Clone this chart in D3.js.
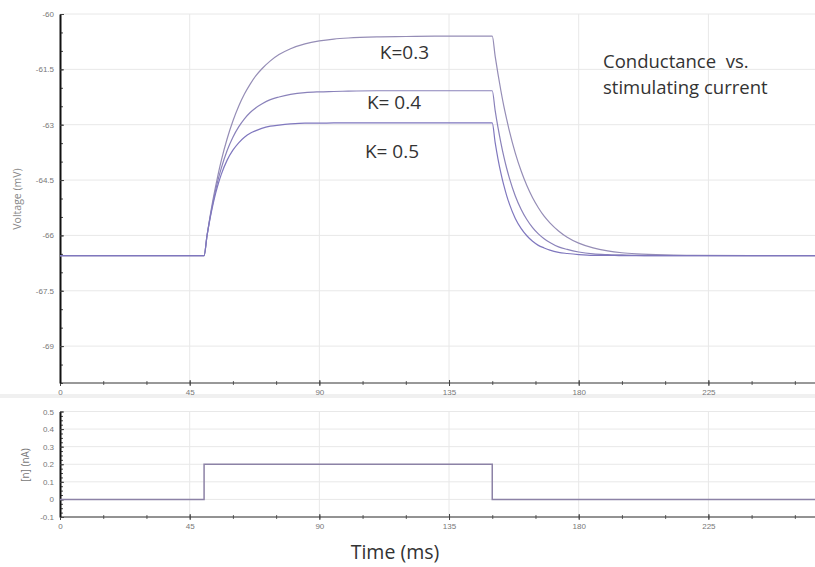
<!DOCTYPE html>
<html>
<head>
<meta charset="utf-8">
<script src="https://cdn.jsdelivr.net/npm/d3@7"></script>
<style>
  html, body { margin: 0; padding: 0; background: #fff; }
  svg { display: block; font-family: "Open Sans", "Noto Sans", sans-serif; }
  .tick text { fill: #777; font-size: 8px; }
  .grid line { stroke: #e8e8e8; }
  .note { white-space: pre; fill: #333; }
</style>
</head>
<body>
<div id="chart"></div>
<script>
// time points (ms)
const times = [0, 50, 51, 52, 53, 54, 55, 56, 58, 60, 62, 64, 66, 68, 70, 73, 76, 80, 85, 90, 95, 100,
    110, 120, 130, 140, 150, 151, 152, 153, 154, 155, 156, 158, 160, 162, 164, 166, 168, 170, 173, 176,
    180, 185, 190, 195, 200, 210, 220, 240, 262];

// membrane voltage (mV) for each K
const vK03 = [-66.55, -66.55, -66.01, -65.52, -65.07, -64.67, -64.30, -63.96, -63.38, -62.90, -62.50,
    -62.17, -61.90, -61.67, -61.49, -61.27, -61.10, -60.94, -60.81, -60.73, -60.68, -60.65,
    -60.62, -60.61, -60.60, -60.60, -60.60, -61.14, -61.63, -62.08, -62.49, -62.85, -63.19, -63.77,
    -64.25, -64.65, -64.98, -65.25, -65.48, -65.66, -65.88, -66.05, -66.21, -66.34, -66.42, -66.47,
    -66.50, -66.53, -66.54, -66.55, -66.55];
const vK04 = [-66.55, -66.55, -66.02, -65.55, -65.14, -64.77, -64.45, -64.17, -63.70, -63.34, -63.06,
    -62.84, -62.67, -62.54, -62.44, -62.32, -62.25, -62.18, -62.13, -62.11, -62.10, -62.09,
    -62.08, -62.08, -62.08, -62.08, -62.08, -62.61, -63.08, -63.49, -63.86, -64.18, -64.46, -64.93,
    -65.29, -65.57, -65.79, -65.96, -66.09, -66.19, -66.31, -66.38, -66.45, -66.50, -66.52, -66.53,
    -66.54, -66.55, -66.55, -66.55, -66.55];
const vK05 = [-66.55, -66.55, -66.02, -65.57, -65.19, -64.86, -64.58, -64.34, -63.96, -63.69, -63.49,
    -63.34, -63.23, -63.16, -63.10, -63.04, -63.01, -62.98, -62.96, -62.96, -62.95, -62.95,
    -62.95, -62.95, -62.95, -62.95, -62.95, -63.48, -63.93, -64.31, -64.64, -64.92, -65.16, -65.54,
    -65.81, -66.01, -66.16, -66.27, -66.34, -66.40, -66.46, -66.49, -66.52, -66.54, -66.54, -66.55,
    -66.55, -66.55, -66.55, -66.55, -66.55];

// stimulating current (nA)
const stimTimes = [0, 50, 50, 150, 150, 262];
const stimValues = [0, 0, 0.2, 0.2, 0, 0];

const xTicks = [0, 45, 90, 135, 180, 225];
const vTicks = [-60, -61.5, -63, -64.5, -66, -67.5, -69];
const iTicks = [0.5, 0.4, 0.3, 0.2, 0.1, 0, -0.1];

const labels = [
    { text: 'K=0.3', t: 111, v: -61.22 },
    { text: 'K= 0.4', t: 106.5, v: -62.57 },
    { text: 'K= 0.5', t: 105.8, v: -63.9 }
];

const W = 815, H = 567;
const svg = d3.select('#chart').append('svg').attr('width', W).attr('height', H);

const x = d3.scaleLinear().domain([0, 262]).range([60, 815]);
const yV = d3.scaleLinear().domain([-70, -60]).range([383, 14]);
const yI = d3.scaleLinear().domain([-0.1, 0.5]).range([517, 411.5]);

// separator band between the two panels
svg.append('rect').attr('x', 0).attr('y', 394).attr('width', W).attr('height', 4).attr('fill', '#f0f0f0');

function grid(yScale, yVals, top, bottom) {
    const g = svg.append('g').attr('class', 'grid');
    g.selectAll('.h').data(yVals).join('line')
        .attr('x1', x(0)).attr('x2', W)
        .attr('y1', (d) => yScale(d)).attr('y2', (d) => yScale(d));
    g.selectAll('.v').data(xTicks.slice(1)).join('line')
        .attr('x1', (d) => x(d)).attr('x2', (d) => x(d))
        .attr('y1', top).attr('y2', bottom);
}

grid(yV, vTicks, 14, 383);
grid(yI, iTicks, 411, 517);

function xAxis(yPos) {
    const minor = d3.range(0, 262, 15);
    svg.append('g')
        .attr('transform', `translate(0,${yPos})`)
        .call(d3.axisBottom(x).tickValues(minor).tickSize(2).tickFormat(''))
        .call((g) => g.select('.domain').remove())
        .selectAll('line').attr('y1', -2).attr('stroke', '#666');
    const ax = svg.append('g')
        .attr('transform', `translate(0,${yPos})`)
        .call(d3.axisBottom(x).tickValues(xTicks).tickSize(3).tickPadding(3).tickSizeOuter(0));
    ax.select('.domain').attr('stroke', '#333').attr('d', `M${x(0)},0H${W}`);
    ax.selectAll('.tick line').attr('y1', -3).attr('stroke', '#444');
}

function yAxis(yScale, ticks, minorStep, lo, hi) {
    const minor = d3.range(lo, hi + 1e-9, minorStep);
    svg.append('g')
        .attr('transform', `translate(${x(0)},0)`)
        .call(d3.axisLeft(yScale).tickValues(minor).tickSize(-3).tickFormat(''))
        .call((g) => g.select('.domain').remove())
        .selectAll('line').attr('stroke', '#444');
    const ax = svg.append('g')
        .attr('transform', `translate(${x(0)},0)`)
        .call(d3.axisLeft(yScale).tickValues(ticks).tickSize(-4).tickPadding(6).tickSizeOuter(0)
            .tickFormat((d) => (d === 0 ? '0' : String(d))));
    ax.select('.domain').attr('stroke', '#111').attr('stroke-width', 2);
    ax.selectAll('.tick line').attr('stroke', '#444');
}

xAxis(383);
yAxis(yV, vTicks, 0.5, -70, -60);
xAxis(517);
yAxis(yI, iTicks, 0.025, -0.1, 0.5);

// voltage traces
const line = d3.line()
    .x((d) => x(d[0]))
    .y((d) => yV(d[1]))
    .curve(d3.curveMonotoneX);

const series = [
    { values: vK03, color: '#958db6' },
    { values: vK04, color: '#8a82ba' },
    { values: vK05, color: '#7f77be' }
];
series.forEach((s) => {
    svg.append('path')
        .datum(times.map((t, i) => [t, s.values[i]]))
        .attr('fill', 'none')
        .attr('stroke', s.color)
        .attr('stroke-width', 1.2)
        .attr('d', line);
});

// stimulus trace
svg.append('path')
    .datum(stimTimes.map((t, i) => [t, stimValues[i]]))
    .attr('fill', 'none')
    .attr('stroke', '#8c82a6')
    .attr('stroke-width', 1.5)
    .attr('d', d3.line().x((d) => x(d[0])).y((d) => yI(d[1])));

// annotations
svg.selectAll('.klabel').data(labels).join('text')
    .attr('class', 'note')
    .attr('x', (d) => x(d.t))
    .attr('y', (d) => yV(d.v))
    .attr('font-size', 19)
    .text((d) => d.text);

svg.append('text').attr('class', 'note').attr('x', 603).attr('y', 68).attr('font-size', 18.5)
    .text('Conductance  vs.');
svg.append('text').attr('class', 'note').attr('x', 603).attr('y', 94).attr('font-size', 18.5)
    .text('stimulating current');

// axis titles
svg.append('text')
    .attr('transform', 'translate(21,199) rotate(-90)')
    .attr('text-anchor', 'middle')
    .attr('font-size', 10.5)
    .attr('fill', '#888')
    .text('Voltage (mV)');
svg.append('text')
    .attr('transform', 'translate(29,465) rotate(-90)')
    .attr('text-anchor', 'middle')
    .attr('font-size', 10)
    .attr('fill', '#777')
    .text('[n] (nA)');
svg.append('text')
    .attr('x', 395).attr('y', 559)
    .attr('text-anchor', 'middle')
    .attr('font-size', 19.5)
    .attr('fill', '#333')
    .text('Time (ms)');
</script>
</body>
</html>
